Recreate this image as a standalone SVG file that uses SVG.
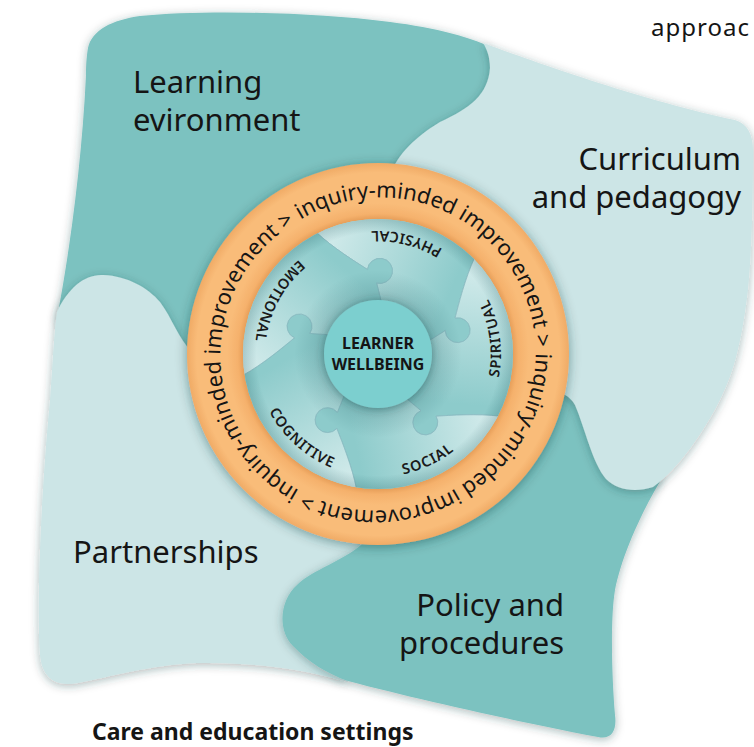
<svg xmlns="http://www.w3.org/2000/svg" width="754" height="747" viewBox="0 0 754 747">
<defs>
<style>
.lbl{font-family:"Noto Sans","Liberation Sans",sans-serif;font-size:31px;fill:#151515}
.dark{fill:#7bc2c0}
.light{fill:#cce5e6}
.ringtxt{font-family:"Noto Sans","Liberation Sans",sans-serif;font-size:22px;fill:#151515}
.pl{font-family:"Noto Sans","Liberation Sans",sans-serif;font-size:14.5px;font-weight:600;letter-spacing:0.9px;fill:#1a1a1a}
.piece{stroke:#8bbcc2;stroke-width:0.8}
.ctr{font-family:"Noto Sans","Liberation Sans",sans-serif;font-size:16px;font-weight:700;fill:#151515}
.cap{font-family:"Noto Sans","Liberation Sans",sans-serif;fill:#151515}
</style>
<filter id="sh" x="-15%" y="-15%" width="130%" height="130%">
<feDropShadow dx="0" dy="2" stdDeviation="5" flood-color="#1d3b3b" flood-opacity="0.35"/>
</filter>
<filter id="rsh" x="-20%" y="-20%" width="140%" height="140%">
<feDropShadow dx="0" dy="2" stdDeviation="6" flood-color="#0b3b3b" flood-opacity="0.45"/>
</filter>
<filter id="csh" x="-40%" y="-40%" width="180%" height="180%">
<feDropShadow dx="0" dy="1" stdDeviation="5" flood-color="#0b3b3b" flood-opacity="0.45"/>
</filter>
<linearGradient id="pg" gradientUnits="userSpaceOnUse" x1="0" y1="-130" x2="90" y2="-20">
<stop offset="0" stop-color="#d5ecec"/><stop offset="1" stop-color="#8dcbcb"/>
</linearGradient>
<radialGradient id="ov" cx="378" cy="354" r="135" gradientUnits="userSpaceOnUse">
<stop offset="0.38" stop-color="#0a4a50" stop-opacity="0.2"/>
<stop offset="0.62" stop-color="#0a4a50" stop-opacity="0"/>
<stop offset="0.9" stop-color="#0a4a50" stop-opacity="0"/>
<stop offset="1" stop-color="#0a4a50" stop-opacity="0.2"/>
</radialGradient>
<radialGradient id="rg" cx="378" cy="354" r="191" gradientUnits="userSpaceOnUse">
<stop offset="0.70" stop-color="#e39a55"/>
<stop offset="0.735" stop-color="#f5b16c"/>
<stop offset="0.79" stop-color="#f9bc79"/>
<stop offset="0.95" stop-color="#f9bc79"/>
<stop offset="1" stop-color="#f0ab66"/>
</radialGradient>
<clipPath id="disk"><circle cx="378" cy="354" r="135"/></clipPath>
<path id="piece" d="M 0,-137 A 137 137 0 0 1 130.30,-42.34 C 111.84,-27.93 94.30,-7.51 85.04,2.86 A 12.5 12.5 0 1 1 70.45,9.70 L 42.31,12.12 A 44 44 0 0 0 24.6,-36.5 L 31,-64 A 12.5 12.5 0 1 0 29,-80 C 22,-92 8,-115 0,-137 Z"/>
<path id="ringpath" d="M 300.5,219.8 A 155 155 0 1 1 455.5,488.2 A 155 155 0 1 1 300.5,219.8"/>
<path id="lblpath" d="M 378,477 A 123 123 0 1 0 378,231 A 123 123 0 1 0 378,477"/>
</defs>

<g id="learning-environment">
<path class="dark" filter="url(#sh)" d="M 88,48 C 92,30 112,20 140,16 C 200,10 300,12 373,20 C 420,25 460,33 488,46 L 500,150 L 380,300 L 250,400 L 100,400 L 57,318 C 70,250 82,160 86,75 C 86,62 87,54 88,48 Z"/>
<text class="lbl" x="133" y="93">Learning</text>
<text class="lbl" x="133" y="131">evironment</text>
</g>

<g id="partnerships">
<path class="light" filter="url(#sh)" d="M 57,312 C 68,288 85,274 103,275 C 128,276 148,288 160,302 C 172,318 178,338 192,352 L 330,420 L 362,540 L 340,600 L 335,660 L 348,682 C 300,668 250,662 197,663 C 150,665 110,677 78,683 C 55,687 42,678 40,655 C 36,600 42,480 50,400 C 53,360 54,332 57,312 Z"/>
<text class="lbl" x="73" y="563">Partnerships</text>
</g>

<g id="policy-and-procedures">
<path class="dark" filter="url(#sh)" d="M 362,544 C 345,560 312,570 297,585 C 280,600 277,630 293,646 C 308,662 328,674 348,681 C 420,700 520,722 598,737 C 612,740 617,730 615,715 C 612,680 610,620 615,590 C 621,560 637,520 662,478 L 570,375 L 450,420 Z"/>
<text class="lbl" x="564" y="616" text-anchor="end">Policy and</text>
<text class="lbl" x="564" y="654" text-anchor="end">procedures</text>
</g>

<g id="curriculum-and-pedagogy">
<path class="light" filter="url(#sh)" d="M 483,43 C 530,60 640,100 735,120 C 748,124 753,135 753,150 C 753,200 752,250 748,290 C 742,340 735,370 720,400 C 705,430 678,470 653,487 C 635,493 617,490 606,479 C 592,462 585,428 575,405 C 570,396 562,392 550,390 L 420,250 L 392,172 C 395,160 410,140 440,122 C 470,108 488,95 490,68 C 490,57 487,49 483,43 Z"/>
<text class="lbl" x="741" y="170" text-anchor="end">Curriculum</text>
<text class="lbl" x="741" y="208" text-anchor="end">and pedagogy</text>
</g>

<g id="improvement-ring">
<circle cx="378" cy="354" r="191" fill="url(#rg)" filter="url(#rsh)"/>
<text class="ringtxt"><textPath href="#ringpath">inquiry-minded improvement &gt; inquiry-minded improvement &gt; inquiry-minded improvement &gt;</textPath></text>
</g>

<g id="wellbeing-pieces" clip-path="url(#disk)">
<circle cx="378" cy="354" r="136" fill="#a3d5d5"/>
<g id="physical"><use href="#piece" class="piece" fill="url(#pg)" transform="translate(378,354) rotate(-27)"/></g>
<g id="spiritual"><use href="#piece" class="piece" fill="url(#pg)" transform="translate(378,354) rotate(45)"/></g>
<g id="social"><use href="#piece" class="piece" fill="url(#pg)" transform="translate(378,354) rotate(117)"/></g>
<g id="cognitive"><use href="#piece" class="piece" fill="url(#pg)" transform="translate(378,354) rotate(189)"/></g>
<g id="emotional"><use href="#piece" class="piece" fill="url(#pg)" transform="translate(378,354) rotate(261)"/></g>
<circle cx="378" cy="354" r="136" fill="url(#ov)"/>
</g>

<g id="piece-labels">
<text class="pl"><textPath href="#lblpath" startOffset="46.1%" text-anchor="middle">PHYSICAL</textPath></text>
<text class="pl"><textPath href="#lblpath" startOffset="27.2%" text-anchor="middle">SPIRITUAL</textPath></text>
<text class="pl"><textPath href="#lblpath" startOffset="7.0%" text-anchor="middle">SOCIAL</textPath></text>
<text class="pl"><textPath href="#lblpath" startOffset="88.3%" text-anchor="middle">COGNITIVE</textPath></text>
<text class="pl"><textPath href="#lblpath" startOffset="67.2%" text-anchor="middle">EMOTIONAL</textPath></text>
</g>

<g id="learner-wellbeing">
<circle cx="378" cy="354" r="54" fill="#7ccfcf" filter="url(#csh)"/>
<text class="ctr" x="378" y="349" text-anchor="middle">LEARNER</text>
<text class="ctr" x="378" y="370" text-anchor="middle">WELLBEING</text>
</g>

<g id="captions">
<text class="cap" x="651" y="36" font-size="24" letter-spacing="1">approac</text>
<text class="cap" x="92" y="740" font-size="23" font-weight="700">Care and education settings</text>
</g>
</svg>
